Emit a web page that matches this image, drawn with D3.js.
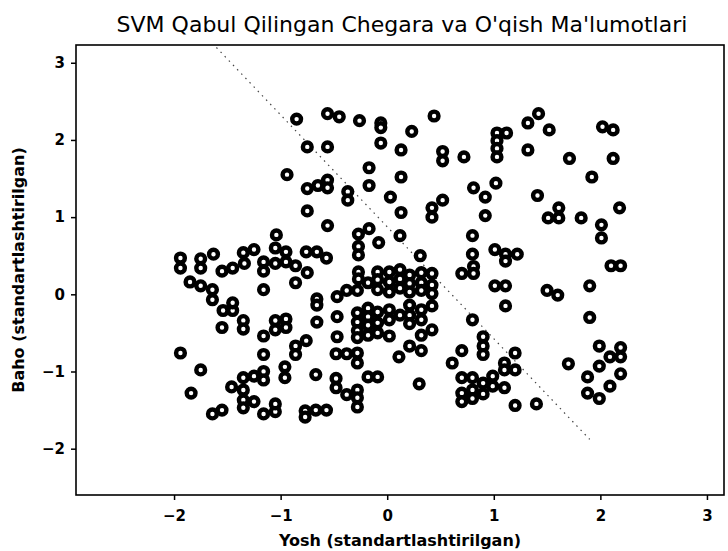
<!DOCTYPE html>
<html>
<head>
<meta charset="utf-8">
<script src="https://cdn.jsdelivr.net/npm/d3@7"></script>
<style>
  html, body { margin: 0; padding: 0; background: #fff; }
  svg text { font-family: "DejaVu Sans", sans-serif; fill: #000; }
</style>
</head>
<body>
<svg id="chart" width="728" height="551"></svg>
<script>
// Standardised age (x) and grade (y) of every applicant
const ageStd = [
  -0.85,-0.56,-0.45,-0.26,-0.06,-0.06,-0.06,0.23,0.44,-0.75,-0.56,0.13,0.52,0.52,0.72,-0.17,-0.17,-0.94,-0.75,-0.65,
  -0.56,-0.56,-0.37,-0.37,0.03,0.13,0.13,0.42,0.42,0.52,-0.75,-0.56,-1.04,-0.27,-0.17,-0.08,-0.27,-0.27,0.12,0.31,
  1.03,1.12,1.03,1.03,1.03,1.32,1.42,1.52,1.32,1.71,2.02,2.12,2.12,1.92,0.81,0.92,1.02,0.92,1.41,1.61,
  1.51,1.61,1.82,2.01,2.01,2.18,0.80,0.80,1.01,1.11,1.22,1.11,0.81,0.81,0.70,2.10,2.19,
  -1.94,-1.94,-1.75,-1.75,-1.63,-1.55,-1.45,-1.35,-1.34,-1.25,-1.16,-1.16,-1.05,-1.05,-0.95,-0.95,-0.86,-0.75,-0.86,-0.76,
  -0.66,-0.57,
  -1.85,-1.75,-1.64,-1.64,-1.16,-1.54,-1.45,-1.45,-1.35,-1.35,-1.55,-1.16,-1.05,-1.05,-0.95,-0.95,-0.66,-0.66,-0.66,
  -0.47,-0.38,-0.27,-0.27,-0.28,-0.18,-0.09,-0.09,-0.09,0.02,0.02,0.02,0.12,0.12,0.12,0.21,0.21,0.21,0.32,0.32,
  0.32,0.42,0.42,0.42,
  -0.47,-0.47,-0.28,-0.28,-0.28,-0.28,-0.18,-0.18,-0.18,-0.18,-0.09,-0.09,-0.09,0.02,0.02,0.02,0.12,0.21,0.21,0.21,
  0.32,0.32,0.32,0.42,0.42,0.21,0.32,0.11,0.30,-0.48,-0.38,-0.28,-0.28,-0.18,-0.09,-0.48,-0.48,-0.38,-0.28,-0.28,
  -0.28,
  -1.94,-1.75,-1.84,-1.16,-0.86,-0.76,-0.86,-0.96,-0.96,-0.67,-1.35,-1.25,-1.16,-1.16,-1.46,-1.35,-1.35,-1.25,-1.35,-1.64,
  -1.55,-1.16,-1.05,-1.05,-0.77,-0.77,-0.67,-0.57,
  1.01,1.11,1.11,1.50,1.60,1.90,1.90,0.80,0.90,0.90,0.90,0.70,0.61,1.20,1.10,1.20,0.70,0.70,0.70,0.80,
  0.80,0.80,0.90,0.90,0.99,0.99,1.10,1.20,1.40,1.70,1.99,2.19,2.09,2.19,1.99,2.19,1.88,2.09,1.88,1.99,
  1.10
];
const gradeStd = [
  2.27,2.34,2.30,2.25,2.22,2.16,1.96,2.11,2.31,1.91,1.91,1.87,1.85,1.73,1.78,1.64,1.41,1.55,1.37,1.41,
  1.48,1.38,1.33,1.22,1.26,1.52,1.06,1.12,1.00,1.22,1.08,0.89,0.77,0.78,0.85,0.67,0.62,0.51,0.76,0.50,
  2.09,2.09,1.99,1.89,1.78,2.22,2.34,2.13,1.87,1.76,2.17,2.13,1.76,1.52,1.38,1.26,1.44,1.02,1.28,1.12,
  0.99,0.99,0.99,0.90,0.73,1.12,0.76,0.52,0.58,0.52,0.52,0.43,0.36,0.27,0.27,0.37,0.37,
  0.47,0.34,0.46,0.34,0.52,0.30,0.34,0.54,0.40,0.58,0.42,0.30,0.60,0.40,0.55,0.42,0.37,0.28,0.15,0.55,
  0.55,0.47,
  0.16,0.11,0.06,-0.07,0.06,-0.21,-0.21,-0.11,-0.34,-0.45,-0.43,-0.54,-0.46,-0.34,-0.32,-0.43,-0.06,-0.14,-0.36,
  -0.03,0.05,0.29,0.20,0.05,0.15,0.29,0.19,0.06,0.29,0.16,0.03,0.32,0.20,0.08,0.25,0.14,0.03,0.28,0.15,
  0.05,0.27,0.12,0.01,
  -0.29,-0.55,-0.24,-0.36,-0.47,-0.56,-0.18,-0.29,-0.40,-0.53,-0.23,-0.37,-0.50,-0.20,-0.33,-0.54,-0.27,-0.14,-0.27,-0.38,
  -0.20,-0.33,-0.53,-0.15,-0.46,-0.67,-0.73,-0.81,-1.16,-0.77,-0.77,-0.76,-0.89,-1.07,-1.07,-1.09,-1.21,-1.30,-1.24,-1.34,
  -1.46,
  -0.76,-0.98,-1.28,-0.78,-0.67,-0.60,-0.78,-0.94,-1.08,-1.04,-1.08,-1.06,-1.00,-1.11,-1.20,-1.24,-1.37,-1.39,-1.47,-1.55,
  -1.50,-1.55,-1.52,-1.42,-1.51,-1.59,-1.50,-1.50,
  0.11,0.11,-0.15,0.05,-0.01,0.11,-0.30,-0.33,-0.55,-0.67,-0.78,-0.73,-0.89,-0.76,-0.89,-0.98,-1.08,-1.28,-1.39,-1.08,
  -1.24,-1.35,-1.15,-1.29,-1.06,-1.19,-1.21,-1.44,-1.42,-0.90,-0.67,-0.69,-0.81,-0.81,-0.93,-1.03,-1.07,-1.19,-1.28,-1.35,
  -0.98
];

// Decision boundary of the linear SVM (end points of the zero contour)
const boundaryX = [-1.68, 1.90];
const boundaryY = [3.31, -1.88];

const xTicks = [-2, -1, 0, 1, 2, 3];
const yTicks = [-2, -1, 0, 1, 2, 3];

const titleText = "SVM Qabul Qilingan Chegara va O'qish Ma'lumotlari";
const xLabelText = "Yosh (standartlashtirilgan)";
const yLabelText = "Baho (standartlashtirilgan)";

const svg = d3.select("#chart");
const plot = { left: 76, right: 724, top: 45, bottom: 495 };

const x = d3.scaleLinear().domain([-2.92, 3.16]).range([plot.left, plot.right]);
const y = d3.scaleLinear().domain([-2.60, 3.23]).range([plot.bottom, plot.top]);

svg.append("defs").append("clipPath").attr("id", "plot-clip")
  .append("rect")
  .attr("x", plot.left).attr("y", plot.top)
  .attr("width", plot.right - plot.left).attr("height", plot.bottom - plot.top);

// decision boundary
const boundary = boundaryX.map((v, i) => [v, boundaryY[i]]);
svg.append("path")
  .attr("clip-path", "url(#plot-clip)")
  .attr("d", d3.line().x(d => x(d[0])).y(d => y(d[1]))(boundary))
  .attr("fill", "none")
  .attr("stroke", "#444")
  .attr("stroke-width", 1.2)
  .attr("stroke-dasharray", "1.5,4.5");

// applicants
const points = ageStd.map((v, i) => [v, gradeStd[i]]);
svg.append("g")
  .attr("clip-path", "url(#plot-clip)")
  .selectAll("circle")
  .data(points)
  .join("circle")
  .attr("cx", d => x(d[0]))
  .attr("cy", d => y(d[1]))
  .attr("r", 4.4)
  .attr("fill", "#fff")
  .attr("stroke", "#000")
  .attr("stroke-width", 4.4);

// axes
const fmt = d => d < 0 ? "\u2212" + Math.abs(d) : d;
const xAxis = svg.append("g")
  .attr("transform", `translate(0,${plot.bottom})`)
  .call(d3.axisBottom(x).tickValues(xTicks).tickSize(5).tickPadding(10).tickFormat(fmt));
const yAxis = svg.append("g")
  .attr("transform", `translate(${plot.left},0)`)
  .call(d3.axisLeft(y).tickValues(yTicks).tickSize(5).tickPadding(6).tickFormat(fmt));

[xAxis, yAxis].forEach(g => {
  g.select(".domain").remove();
  g.selectAll(".tick line").attr("stroke", "#000").attr("stroke-width", 1.5);
  g.selectAll(".tick text")
    .style("font-family", "'DejaVu Sans', sans-serif")
    .style("font-size", "15px")
    .style("font-weight", "bold");
});

// frame
svg.append("rect")
  .attr("x", plot.left).attr("y", plot.top)
  .attr("width", plot.right - plot.left).attr("height", plot.bottom - plot.top)
  .attr("fill", "none").attr("stroke", "#000").attr("stroke-width", 1.6);

// title and axis labels
svg.append("text")
  .attr("x", 402).attr("y", 32)
  .attr("text-anchor", "middle")
  .style("font-size", "22px")
  .text(titleText);

svg.append("text")
  .attr("x", (plot.left + plot.right) / 2).attr("y", 546)
  .attr("text-anchor", "middle")
  .style("font-size", "16px")
  .style("font-weight", "bold")
  .text(xLabelText);

svg.append("text")
  .attr("transform", `translate(24,${(plot.top + plot.bottom) / 2}) rotate(-90)`)
  .attr("text-anchor", "middle")
  .style("font-size", "16px")
  .style("font-weight", "bold")
  .text(yLabelText);
</script>
</body>
</html>
